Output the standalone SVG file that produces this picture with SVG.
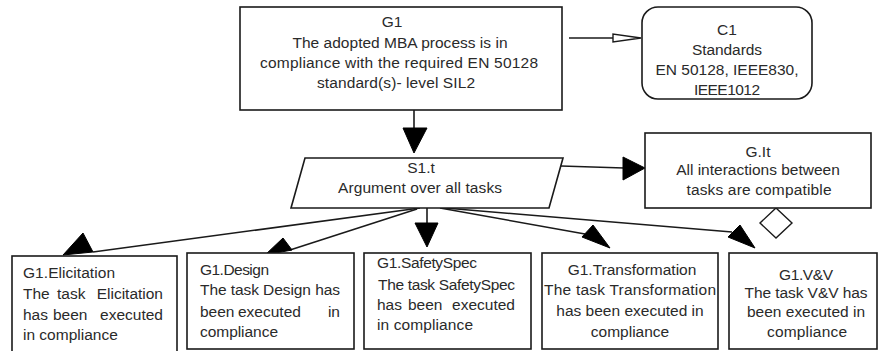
<svg xmlns="http://www.w3.org/2000/svg" width="878" height="351" viewBox="0 0 878 351">
<style>
.box{fill:#fff;stroke:#1a1a1a;stroke-width:1.6}
.t{font-family:"Liberation Sans",Arial,sans-serif;font-size:15.5px;fill:#2a2a2a}
.c{text-anchor:middle}
.e{text-anchor:end}
.conn{stroke:#1a1a1a;stroke-width:1.6;fill:none}
.head{fill:#000;stroke:#000;stroke-width:1;stroke-linejoin:round}
.hollow{fill:#fff;stroke:#1a1a1a;stroke-width:1.4}
</style>
<rect width="878" height="351" fill="#fff"/>
<g id="connectors">
  <line class="conn" x1="414" y1="110" x2="414" y2="129"/>
  <polygon class="head" points="403,128 427,128 414,153"/>
  <line class="conn" x1="569" y1="38" x2="613" y2="38"/>
  <polygon class="hollow" points="613,34 613,42 641,38"/>
  <line class="conn" x1="561" y1="166" x2="624" y2="168"/>
  <polygon class="head" points="623,157 623,180 645,168"/>
  <line class="conn" x1="420" y1="208" x2="93" y2="252"/>
  <polygon class="head" points="83,233 63,255 93,252"/>
  <line class="conn" x1="417" y1="209" x2="290" y2="250"/>
  <polygon class="head" points="283,238 265,255 292,250"/>
  <line class="conn" x1="427" y1="208" x2="427" y2="224"/>
  <polygon class="head" points="415,223 438,223 427,247"/>
  <line class="conn" x1="440" y1="208" x2="585" y2="234"/>
  <polygon class="head" points="593,225 582,237 610,248"/>
  <line class="conn" x1="445" y1="208" x2="732" y2="232"/>
  <polygon class="head" points="740,225 728,237 755,248"/>
  <polygon class="hollow" points="776,208 792,223 776,238 760,223"/>
</g>
<g id="G1">
  <rect class="box" x="240" y="7" width="322" height="103"/>
  <text class="t c" x="392" y="27">G1</text>
  <text class="t c" x="400" y="48" textLength="215" lengthAdjust="spacing">The adopted MBA process is in</text>
  <text class="t c" x="399" y="68" textLength="278" lengthAdjust="spacing">compliance with the required EN 50128</text>
  <text class="t c" x="396" y="88" textLength="158" lengthAdjust="spacing">standard(s)- level SIL2</text>
</g>
<g id="C1">
  <rect class="box" x="642" y="7" width="170" height="92" rx="16" ry="16"/>
  <text class="t c" x="727" y="35">C1</text>
  <text class="t c" x="727" y="55" textLength="70" lengthAdjust="spacing">Standards</text>
  <text class="t c" x="727" y="75">EN 50128, IEEE830,</text>
  <text class="t c" x="727" y="95" textLength="66" lengthAdjust="spacing">IEEE1012</text>
</g>
<g id="S1t">
  <polygon class="box" points="305,158 563,158 549,208 291,208"/>
  <text class="t c" x="421" y="173">S1.t</text>
  <text class="t c" x="420" y="193" textLength="164" lengthAdjust="spacing">Argument over all tasks</text>
</g>
<g id="GIt">
  <rect class="box" x="645" y="133" width="226" height="75"/>
  <text class="t c" x="758" y="157">G.It</text>
  <text class="t c" x="758" y="175">All interactions between</text>
  <text class="t c" x="759" y="195" textLength="145" lengthAdjust="spacing">tasks are compatible</text>
</g>
<g id="G1Elicitation">
  <rect class="box" x="12" y="256" width="165" height="100"/>
  <text class="t" x="23" y="278" textLength="92" lengthAdjust="spacing">G1.Elicitation</text>
  <text class="t" x="23" y="299">The</text>
  <text class="t" x="57" y="299">task</text>
  <text class="t e" x="163" y="299">Elicitation</text>
  <text class="t" x="23" y="320">has</text>
  <text class="t" x="53" y="320">been</text>
  <text class="t e" x="163" y="320">executed</text>
  <text class="t" x="23" y="340">in compliance</text>
</g>
<g id="G1Design">
  <rect class="box" x="187" y="253" width="167" height="96"/>
  <text class="t" x="200" y="275" textLength="69" lengthAdjust="spacing">G1.Design</text>
  <text class="t" x="200" y="295" textLength="140" lengthAdjust="spacing">The task Design has</text>
  <text class="t" x="200" y="317">been</text>
  <text class="t" x="238" y="317">executed</text>
  <text class="t e" x="340" y="317">in</text>
  <text class="t" x="200" y="337" textLength="78" lengthAdjust="spacing">compliance</text>
</g>
<g id="G1SafetySpec">
  <rect class="box" x="364" y="253" width="167" height="96"/>
  <text class="t" x="377" y="268" textLength="100" lengthAdjust="spacing">G1.SafetySpec</text>
  <text class="t" x="378" y="290" textLength="137" lengthAdjust="spacing">The task SafetySpec</text>
  <text class="t" x="377" y="310">has</text>
  <text class="t" x="408" y="310">been</text>
  <text class="t e" x="515" y="310">executed</text>
  <text class="t" x="377" y="330" textLength="96" lengthAdjust="spacing">in compliance</text>
</g>
<g id="G1Transformation">
  <rect class="box" x="542" y="253" width="176" height="96"/>
  <text class="t c" x="632" y="275">G1.Transformation</text>
  <text class="t c" x="630" y="295" textLength="172" lengthAdjust="spacing">The task Transformation</text>
  <text class="t c" x="630" y="316">has been executed in</text>
  <text class="t c" x="630" y="337">compliance</text>
</g>
<g id="G1VV">
  <rect class="box" x="729" y="253" width="148" height="96"/>
  <text class="t c" x="806" y="280" textLength="54" lengthAdjust="spacing">G1.V&amp;V</text>
  <text class="t c" x="806" y="298" textLength="123" lengthAdjust="spacing">The task V&amp;V has</text>
  <text class="t c" x="806" y="317" textLength="118" lengthAdjust="spacing">been executed in</text>
  <text class="t c" x="807" y="337" textLength="80" lengthAdjust="spacing">compliance</text>
</g>
</svg>
